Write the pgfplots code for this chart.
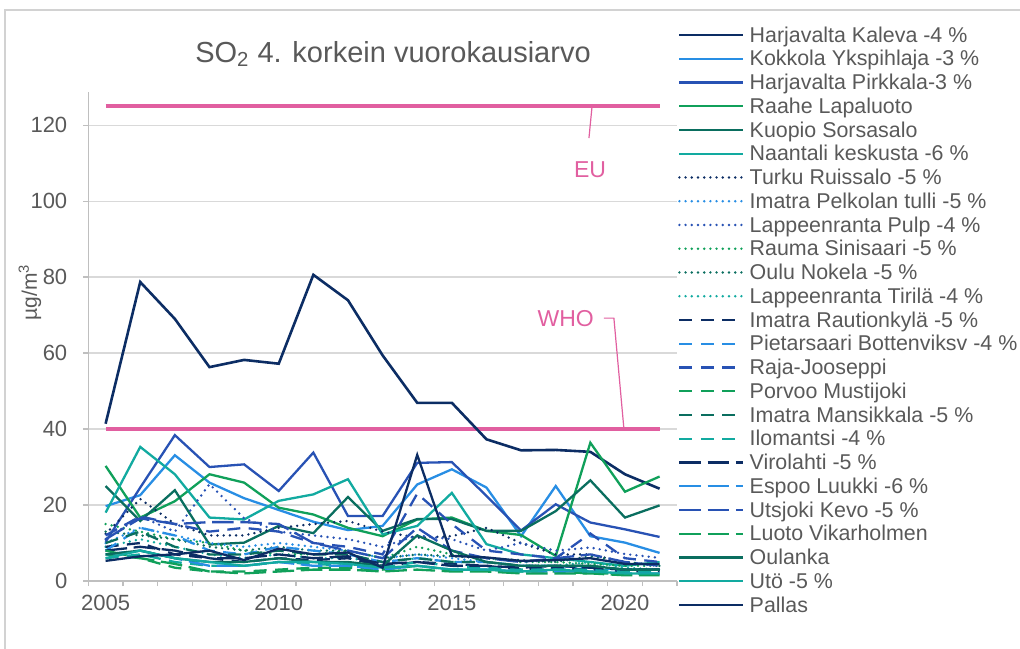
\documentclass[border=0pt]{standalone}
\usepackage{fontspec}
\setmainfont{Liberation Sans}
\usepackage{pgfplots}
\usepackage{pgfplotstable}
\pgfplotsset{compat=1.18}
\definecolor{cnavy}{RGB}{12,45,100}
\definecolor{clblue}{RGB}{40,142,228}
\definecolor{cblue}{RGB}{40,82,180}
\definecolor{cgreen}{RGB}{16,160,90}
\definecolor{cdteal}{RGB}{10,110,95}
\definecolor{cteal}{RGB}{18,170,160}
\definecolor{cpink}{RGB}{225,95,160}
\definecolor{textgray}{RGB}{89,89,89}
\definecolor{gridgray}{RGB}{217,217,217}
\definecolor{axisgray}{RGB}{191,191,191}
\definecolor{framegray}{RGB}{210,210,210}
\pgfplotstableread{
year a b c d e f g h i j k l m n o p q r s t u v w x y
2005 41.4 19.7 10.3 30.3 25.0 18.0 12.4 10 11 15 13 9 9 8 12 7 10 6 8 7 11 8 7 6 5.3
2006 78.7 22.6 24.6 16.7 15.8 35.3 21.6 14 17 13 12 11 10 14 17 6 13 7 9 8 16.5 6 8 8 6.5
2007 69.0 33.1 38.4 21.0 23.9 28.1 15.0 12 13 11 11 9 7 12 15 3.5 9 5 8 6 15 4.5 6 6 7
2008 56.3 25.9 30.0 28.1 9.6 16.7 12.0 10 25.5 10 9 7 6 8 13 2.5 7 4 6 4 15.5 2.5 5 5 8
2009 58.2 21.8 30.7 25.9 10.1 16.2 12.0 9 16.5 8 8 6 5 7 14 2.5 7 4 6 4 15.5 2 5 4 5.5
2010 57.2 18.7 23.7 19.3 14.5 21.1 14.0 10 13 7 9 7 6 9 13 3 8 5 7 5 15 2.5 6 5 8.5
2011 80.6 15.6 33.8 17.5 12.6 22.8 15.0 9 12 7 8 6 5.5 8 10 3.5 7 4.5 6 4 10 3 5 5 7
2012 73.9 13.4 17.1 14.0 22.1 26.8 15.8 8 11 8 8 6 6 7 9 3.5 7 4 6.5 4 8 3 5 4.5 7.5
2013 59.4 14.5 17.1 11.8 13.2 12.3 13.0 6 9 6 6 5 4 5 7 3 5 3.5 4.5 3 6 2.5 4 3.5 3.5
2014 46.9 25.4 31.1 16.2 16.3 14.5 11.4 7 12 9 7 6 5 6 23 4 6 5 5 4 14 3 12 4 33.2
2015 46.9 29.4 31.3 16.7 16.3 23.2 11.8 6 11 7 6.5 5 4.5 5 15 3 5 4 4 3 8 2.5 8 3 6.6
2016 37.3 24.6 22.4 13.2 13.2 9.7 14.0 5 8 6 6 5 4 5 8 3 5 3.5 4 3 6 2.5 5 3 6.2
2017 34.4 11.8 13.3 12.1 13.2 7.0 10.0 4 10 5 5.5 4 3 4 7 2.5 4 3 3.5 2.5 5 2 4 2.5 5.3
2018 34.5 25.0 20.2 6.6 18.4 6.0 7.0 4 8 5 5 4 3.5 4 6 2.5 4 3 4 2.5 6 2 4 3 5.5
2019 34.0 11.8 15.4 36.4 26.5 5.0 7.0 3.5 8.8 4.5 6.5 5 3 3.5 12.5 2 4 3 3.5 2.5 7 2 4 2.5 6
2020 28.1 10.1 13.6 23.5 16.7 4.0 5.0 3 7.1 4 5 3.5 2.5 3 6 2 3 2.5 3 2 5 1.5 3 2 4.5
2021 24.3 7.4 11.6 27.5 19.9 5.0 4.0 3 6.1 4 4 3 2.5 3 5 2 3 2.5 3 2 4 1.5 3 2 4.5
}\data
\begin{document}
\begin{tikzpicture}
\useasboundingbox (-44.15pt,-33.5pt) rectangle (465.85pt,290.5pt);
\draw[framegray, line width=0.6pt] (-41.65pt,-40pt) -- (-41.65pt,285.5pt) -- (470pt,285.5pt);
\begin{axis}[
  scale only axis, width=294.3pt, height=244.65pt,
  xmin=2004.5, xmax=2021.5, ymin=0, ymax=128.8,
  axis x line*=bottom, axis y line*=left,
  axis line style={axisgray, line width=0.6pt, -},
  xtick={2005,2010,2015,2020},
  minor xtick={2004.5,2005.5,...,2021.5},
  ytick={0,20,...,120},
  ymajorgrids, major grid style={gridgray, line width=0.6pt},
  tick align=outside,
  major tick length=2.5pt, minor tick length=2.5pt,
  major x tick style={draw=none},
  minor x tick style={axisgray, line width=0.6pt},
  major y tick style={axisgray, line width=0.6pt},
  tick label style={font=\fontsize{11}{13}\selectfont, text=textgray},
  yticklabel style={xshift=-4.5pt},
  xticklabel style={yshift=-1pt},
  /pgf/number format/.cd, 1000 sep={}, assume math mode=true,
  /pgfplots/.cd,
  legend style={at={(1.0019,1.1402)}, anchor=north west, draw=none, fill=none,
    inner sep=0pt, outer sep=0pt, row sep=0pt,
    font=\fontsize{10.7}{12}\selectfont, text=textgray,
    nodes={inner sep=0pt, text height=9.5pt, text depth=2.375pt},
    /tikz/every odd column/.append style={column sep=2.5pt}},
  legend cell align=left,
  legend image code/.code={\draw[#1] (0pt,0pt) -- (32pt,0pt);},
  every axis plot/.append style={line width=1.15pt},
  clip=false,
]
\addplot[cpink, line width=2pt, forget plot] coordinates {(2005,125) (2021,125)};
\addplot[cpink, line width=2pt, forget plot] coordinates {(2005,40) (2021,40)};
\pgfplotsset{
  sdot/.style={line width=1.35pt, line cap=round, dash pattern=on 0pt off 3.1pt},
  sdash/.style={dash pattern=on 6.5pt off 4.2pt},
  sldash/.style={dash pattern=on 10.8pt off 3.3pt},
}
\addplot[cnavy, line width=1.3pt] table[x=year,y=a] {\data}; \addlegendentry{Harjavalta Kaleva -4 \%}
\addplot[clblue] table[x=year,y=b] {\data}; \addlegendentry{Kokkola Ykspihlaja -3 \%}
\addplot[cblue] table[x=year,y=c] {\data}; \addlegendentry{Harjavalta Pirkkala-3 \%}
\addplot[cgreen] table[x=year,y=d] {\data}; \addlegendentry{Raahe Lapaluoto}
\addplot[cdteal] table[x=year,y=e] {\data}; \addlegendentry{Kuopio Sorsasalo}
\addplot[cteal] table[x=year,y=f] {\data}; \addlegendentry{Naantali keskusta -6 \%}
\addplot[cnavy, sdot] table[x=year,y=g] {\data}; \addlegendentry{Turku Ruissalo -5 \%}
\addplot[clblue, sdot] table[x=year,y=h] {\data}; \addlegendentry{Imatra Pelkolan tulli -5 \%}
\addplot[cblue, sdot] table[x=year,y=i] {\data}; \addlegendentry{Lappeenranta Pulp -4 \%}
\addplot[cgreen, sdot] table[x=year,y=j] {\data}; \addlegendentry{Rauma Sinisaari -5 \%}
\addplot[cdteal, sdot] table[x=year,y=k] {\data}; \addlegendentry{Oulu Nokela -5 \%}
\addplot[cteal, sdot] table[x=year,y=l] {\data}; \addlegendentry{Lappeenranta Tirilä -4 \%}
\addplot[cnavy, sdash] table[x=year,y=m] {\data}; \addlegendentry{Imatra Rautionkylä -5 \%}
\addplot[clblue, sdash] table[x=year,y=n] {\data}; \addlegendentry{Pietarsaari Bottenviksv -4 \%}
\addplot[cblue, sdash] table[x=year,y=o] {\data}; \addlegendentry{Raja-Jooseppi}
\addplot[cgreen, sdash] table[x=year,y=p] {\data}; \addlegendentry{Porvoo Mustijoki}
\addplot[cdteal, sdash] table[x=year,y=q] {\data}; \addlegendentry{Imatra Mansikkala -5 \%}
\addplot[cteal, sdash] table[x=year,y=r] {\data}; \addlegendentry{Ilomantsi -4 \%}
\addplot[cnavy, sldash] table[x=year,y=s] {\data}; \addlegendentry{Virolahti -5 \%}
\addplot[clblue, sldash] table[x=year,y=t] {\data}; \addlegendentry{Espoo Luukki -6 \%}
\addplot[cblue, sldash] table[x=year,y=u] {\data}; \addlegendentry{Utsjoki Kevo -5 \%}
\addplot[cgreen, sldash] table[x=year,y=v] {\data}; \addlegendentry{Luoto Vikarholmen}
\addplot[cdteal] table[x=year,y=w] {\data}; \addlegendentry{Oulanka}
\addplot[cteal] table[x=year,y=x] {\data}; \addlegendentry{Utö -5 \%}
\addplot[cnavy] table[x=year,y=y] {\data}; \addlegendentry{Pallas}
\draw[cpink, line width=0.6pt] (axis cs:2019.05,125) -- (axis cs:2018.96,116.6);
\node[text=cpink, font=\fontsize{11.5}{13}\selectfont] at (axis cs:2018.99,108.2) {EU};
\node[text=cpink, font=\fontsize{11.5}{13}\selectfont] at (axis cs:2018.29,69.2) {WHO};
\draw[cpink, line width=0.6pt] (axis cs:2019.39,69.2) -- (axis cs:2019.68,69.2) -- (axis cs:2019.97,40);
\end{axis}
\node[text=textgray, font=\fontsize{14.5}{17}\selectfont] at (152.35pt,263.5pt) {SO\textsubscript{2} 4. korkein vuorokausiarvo};
\node[text=textgray, font=\fontsize{10.5}{12}\selectfont, rotate=90] at (-29.15pt,144.5pt) {µg/m\textsuperscript{3}};
\end{tikzpicture}
\end{document}
